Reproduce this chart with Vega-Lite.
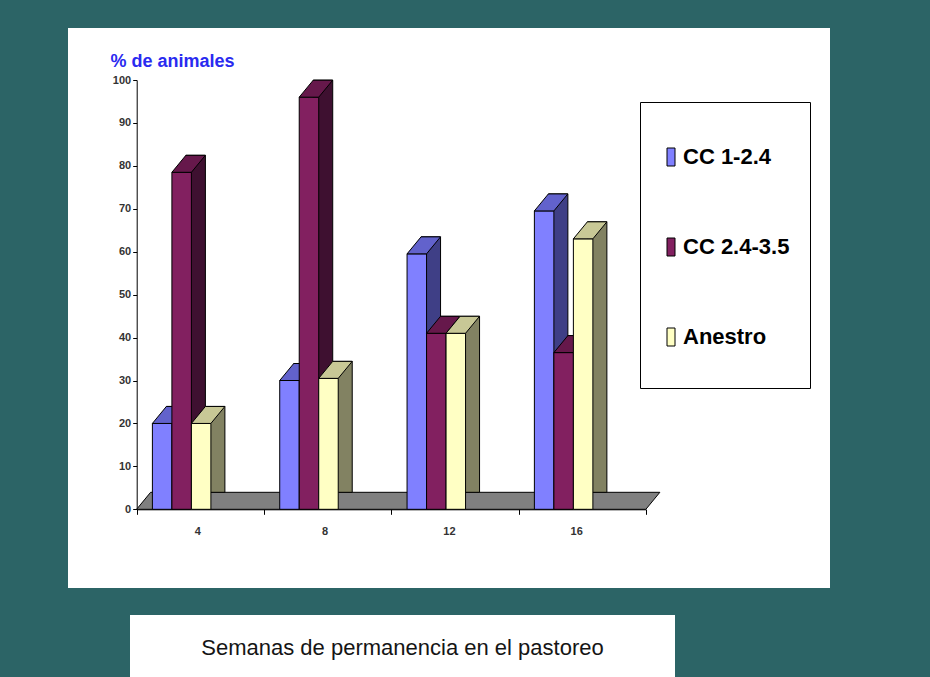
{
  "$schema": "https://vega.github.io/schema/vega-lite/v6.json",
  "background": "#2c6466",
  "padding": {"left": 68, "top": 28, "right": 100, "bottom": 0},
  "spacing": 27,
  "config": {"view": {"stroke": null}, "font": "Liberation Sans"},
  "vconcat": [
    {
      "width": 762,
      "height": 560,
      "view": {"fill": "white", "stroke": null},
      "data": {"values": [
        {"w": "4", "s": "CC 1-2.4", "v": 20},
        {"w": "4", "s": "CC 2.4-3.5", "v": 78.5},
        {"w": "4", "s": "Anestro", "v": 20},
        {"w": "8", "s": "CC 1-2.4", "v": 30},
        {"w": "8", "s": "CC 2.4-3.5", "v": 96},
        {"w": "8", "s": "Anestro", "v": 30.5},
        {"w": "12", "s": "CC 1-2.4", "v": 59.5},
        {"w": "12", "s": "CC 2.4-3.5", "v": 41},
        {"w": "12", "s": "Anestro", "v": 41},
        {"w": "16", "s": "CC 1-2.4", "v": 69.5},
        {"w": "16", "s": "CC 2.4-3.5", "v": 36.5},
        {"w": "16", "s": "Anestro", "v": 63}
      ]},
      "resolve": {"scale": {"y": "independent", "xOffset": "independent"}},
      "layer": [
        {
          "transform": [{"filter": "datum.w == '4' && datum.s == 'Anestro'"}],
          "mark": {"type": "point", "shape": "M -63.75 0 L 445.5 0 L 459.5 -17 L -49.75 -17 Z", "size": 4, "filled": true, "fill": "#808080", "stroke": "black", "strokeWidth": 1, "opacity": 1},
          "encoding": {
            "x": {"datum": "4", "type": "nominal", "scale": {"domain": ["4", "8", "12", "16"], "range": [68.7, 578], "paddingInner": 0, "paddingOuter": 0}},
            "y": {"datum": 0, "type": "quantitative", "scale": {"domain": [0, 100], "range": [481.3, 52], "nice": false}, "axis": null}
          }
        },
        {
          "transform": [{"filter": "datum.s == 'CC 1-2.4'"}],
          "mark": {"type": "bar", "fill": "#3f3f86", "stroke": "black", "strokeWidth": 1},
          "encoding": {
            "x": {"field": "w", "type": "nominal"},
            "xOffset": {"field": "s", "type": "nominal", "scale": {"domain": ["CC 1-2.4", "CC 2.4-3.5", "Anestro"], "range": [29.7, 88.2], "paddingInner": 0, "paddingOuter": 0}},
            "y": {"field": "v", "type": "quantitative", "scale": {"domain": [0, 100], "range": [464.3, 35], "nice": false}, "axis": null}
          }
        },
        {
          "transform": [{"filter": "datum.s == 'CC 1-2.4'"}],
          "mark": {"type": "bar", "stroke": "black", "strokeWidth": 1, "opacity": 1},
          "encoding": {
            "x": {"field": "w", "type": "nominal", "axis": {"orient": "bottom", "offset": -78.7, "tickBand": "extent", "domainColor": "black", "domainWidth": 1, "tickColor": "black", "tickSize": 5, "tickWidth": 1, "labelFont": "Liberation Sans", "labelFontWeight": "bold", "labelFontSize": 11, "labelColor": "#333333", "labelPadding": 17, "labelAngle": 0, "title": null}},
            "xOffset": {"field": "s", "type": "nominal", "scale": {"domain": ["CC 1-2.4", "CC 2.4-3.5", "Anestro"], "range": [15.7, 74.2], "paddingInner": 0, "paddingOuter": 0}},
            "y": {"field": "v", "type": "quantitative", "scale": {"domain": [0, 100], "range": [481.3, 52], "nice": false}, "axis": {"orient": "left", "offset": -68.7, "values": [0, 10, 20, 30, 40, 50, 60, 70, 80, 90, 100], "domainColor": "black", "domainWidth": 1, "tickColor": "black", "tickSize": 4, "labelFont": "Liberation Sans", "labelFontWeight": "bold", "labelFontSize": 11, "labelColor": "#333333", "labelPadding": 2, "grid": false, "title": "% de animales", "titleAngle": 0, "titleX": -26.7, "titleY": 38.7, "titleAlign": "left", "titleBaseline": "alphabetic", "titleColor": "#2a2af0", "titleFont": "Liberation Sans", "titleFontSize": 18, "titleFontWeight": "bold"}},
            "color": {"field": "s", "type": "nominal", "scale": {"domain": ["CC 1-2.4", "CC 2.4-3.5", "Anestro"], "range": ["#8080ff", "#822060", "#ffffc4"]}, "legend": {"orient": "none", "legendX": 572, "legendY": 74, "title": " ", "titleFontSize": 14, "titlePadding": 10, "fillColor": "white", "strokeColor": "black", "padding": 20, "rowPadding": 28, "symbolType": "M 0 -7.25 L 0 -7.25 M -1 -2.25 L 1 -2.25 L 1 2.25 L -1 2.25 Z M 0 7.25 L 0 7.25", "symbolSize": 64, "symbolStrokeColor": "black", "symbolStrokeWidth": 1, "symbolOpacity": 1, "labelFont": "Liberation Sans", "labelFontSize": 22, "labelFontWeight": "bold", "labelColor": "black", "labelOffset": 1}}
          }
        },
        {
          "transform": [{"filter": "datum.s == 'CC 1-2.4'"}],
          "mark": {"type": "point", "shape": "M 0 0 L 19.5 0 L 33.5 -17 L 14 -17 Z", "size": 4, "filled": true, "fill": "#6262cc", "stroke": "black", "strokeWidth": 1, "opacity": 1},
          "encoding": {
            "x": {"field": "w", "type": "nominal"},
            "xOffset": {"field": "s", "type": "nominal", "scale": {"type": "point", "domain": ["CC 1-2.4", "CC 2.4-3.5", "Anestro"], "range": [15.7, 54.7], "padding": 0}},
            "y": {"field": "v", "type": "quantitative", "scale": {"domain": [0, 100], "range": [481.3, 52], "nice": false}, "axis": null}
          }
        },
        {
          "transform": [{"filter": "datum.s == 'CC 2.4-3.5'"}],
          "mark": {"type": "bar", "fill": "#3e1030", "stroke": "black", "strokeWidth": 1},
          "encoding": {
            "x": {"field": "w", "type": "nominal"},
            "xOffset": {"field": "s", "type": "nominal", "scale": {"domain": ["CC 1-2.4", "CC 2.4-3.5", "Anestro"], "range": [29.7, 88.2], "paddingInner": 0, "paddingOuter": 0}},
            "y": {"field": "v", "type": "quantitative", "scale": {"domain": [0, 100], "range": [464.3, 35], "nice": false}, "axis": null}
          }
        },
        {
          "transform": [{"filter": "datum.s == 'CC 2.4-3.5'"}],
          "mark": {"type": "bar", "stroke": "black", "strokeWidth": 1, "opacity": 1},
          "encoding": {
            "x": {"field": "w", "type": "nominal"},
            "xOffset": {"field": "s", "type": "nominal", "scale": {"domain": ["CC 1-2.4", "CC 2.4-3.5", "Anestro"], "range": [15.7, 74.2], "paddingInner": 0, "paddingOuter": 0}},
            "y": {"field": "v", "type": "quantitative", "scale": {"domain": [0, 100], "range": [481.3, 52], "nice": false}, "axis": null},
            "color": {"field": "s", "type": "nominal"}
          }
        },
        {
          "transform": [{"filter": "datum.s == 'CC 2.4-3.5'"}],
          "mark": {"type": "point", "shape": "M 0 0 L 19.5 0 L 33.5 -17 L 14 -17 Z", "size": 4, "filled": true, "fill": "#66184b", "stroke": "black", "strokeWidth": 1, "opacity": 1},
          "encoding": {
            "x": {"field": "w", "type": "nominal"},
            "xOffset": {"field": "s", "type": "nominal", "scale": {"type": "point", "domain": ["CC 1-2.4", "CC 2.4-3.5", "Anestro"], "range": [15.7, 54.7], "padding": 0}},
            "y": {"field": "v", "type": "quantitative", "scale": {"domain": [0, 100], "range": [481.3, 52], "nice": false}, "axis": null}
          }
        },
        {
          "transform": [{"filter": "datum.s == 'Anestro'"}],
          "mark": {"type": "bar", "fill": "#828262", "stroke": "black", "strokeWidth": 1},
          "encoding": {
            "x": {"field": "w", "type": "nominal"},
            "xOffset": {"field": "s", "type": "nominal", "scale": {"domain": ["CC 1-2.4", "CC 2.4-3.5", "Anestro"], "range": [29.7, 88.2], "paddingInner": 0, "paddingOuter": 0}},
            "y": {"field": "v", "type": "quantitative", "scale": {"domain": [0, 100], "range": [464.3, 35], "nice": false}, "axis": null}
          }
        },
        {
          "transform": [{"filter": "datum.s == 'Anestro'"}],
          "mark": {"type": "bar", "stroke": "black", "strokeWidth": 1, "opacity": 1},
          "encoding": {
            "x": {"field": "w", "type": "nominal"},
            "xOffset": {"field": "s", "type": "nominal", "scale": {"domain": ["CC 1-2.4", "CC 2.4-3.5", "Anestro"], "range": [15.7, 74.2], "paddingInner": 0, "paddingOuter": 0}},
            "y": {"field": "v", "type": "quantitative", "scale": {"domain": [0, 100], "range": [481.3, 52], "nice": false}, "axis": null},
            "color": {"field": "s", "type": "nominal"}
          }
        },
        {
          "transform": [{"filter": "datum.s == 'Anestro'"}],
          "mark": {"type": "point", "shape": "M 0 0 L 19.5 0 L 33.5 -17 L 14 -17 Z", "size": 4, "filled": true, "fill": "#c8c896", "stroke": "black", "strokeWidth": 1, "opacity": 1},
          "encoding": {
            "x": {"field": "w", "type": "nominal"},
            "xOffset": {"field": "s", "type": "nominal", "scale": {"type": "point", "domain": ["CC 1-2.4", "CC 2.4-3.5", "Anestro"], "range": [15.7, 54.7], "padding": 0}},
            "y": {"field": "v", "type": "quantitative", "scale": {"domain": [0, 100], "range": [481.3, 52], "nice": false}, "axis": null}
          }
        }
      ]
    },
    {
      "spacing": 0,
      "hconcat": [
        {
          "width": 62,
          "height": 62,
          "view": {"fill": null, "stroke": null},
          "data": {"values": []},
          "mark": {"type": "text"},
          "encoding": {}
        },
        {
          "width": 545,
          "height": 62,
          "view": {"fill": "white", "stroke": null},
          "data": {"values": [{"t": "Semanas de permanencia en el pastoreo"}]},
          "mark": {"type": "text", "font": "Liberation Sans", "fontSize": 22, "color": "#151515", "baseline": "middle", "align": "center", "dy": 2},
          "encoding": {"text": {"field": "t", "type": "nominal"}}
        }
      ]
    }
  ]
}
